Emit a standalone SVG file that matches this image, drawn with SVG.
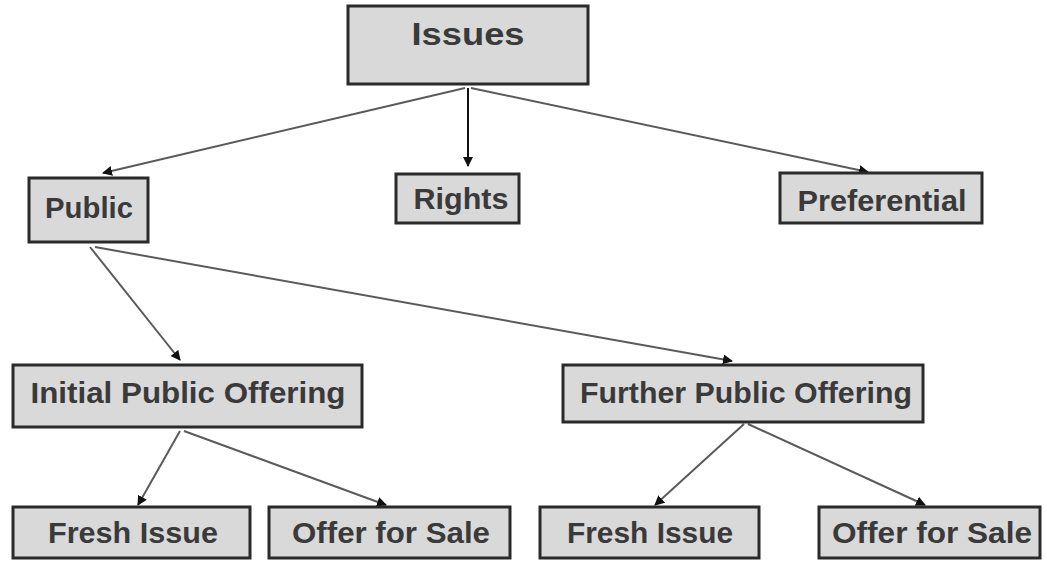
<svg xmlns="http://www.w3.org/2000/svg" width="1047" height="561" viewBox="0 0 1047 561">
<style>
.box{fill:#d9d9d9;stroke:#2a2a2a;stroke-width:3}
.inner{fill:none;stroke:#9a9a9a;stroke-width:1}
.lbl{font-family:"Liberation Sans",Arial,sans-serif;font-weight:bold;fill:#3a3a3a;text-anchor:middle}
.edge{stroke:#5a5a5a;stroke-width:2;fill:none;marker-end:url(#ah)}
</style>
<defs>
<marker id="ah" viewBox="0 0 10 10" refX="9" refY="5" markerWidth="5" markerHeight="5" orient="auto" markerUnits="strokeWidth">
<path d="M0,0 L10,5 L0,10 z" fill="#111"/>
</marker>
</defs>
<rect width="1047" height="561" fill="#fff"/>
<g id="connectors">
<line class="edge" x1="465" y1="88" x2="103" y2="173"/>
<line class="edge" x1="468" y1="88" x2="468" y2="166" style="stroke:#111"/>
<line class="edge" x1="471" y1="88" x2="868" y2="172"/>
<line class="edge" x1="90" y1="247" x2="180" y2="360"/>
<line class="edge" x1="95" y1="247" x2="732" y2="361"/>
<line class="edge" x1="180" y1="431" x2="138" y2="505"/>
<line class="edge" x1="184" y1="431" x2="386" y2="505"/>
<line class="edge" x1="744" y1="424" x2="655" y2="505"/>
<line class="edge" x1="748" y1="424" x2="925" y2="505"/>
</g>
<g id="n-issues">
<rect class="box" x="348" y="6" width="240" height="78"/>
<text class="lbl" x="468" y="45" font-size="32" textLength="113" lengthAdjust="spacingAndGlyphs">Issues</text>
</g>
<g id="n-public">
<rect class="box" x="29" y="178" width="119" height="64"/>
<text class="lbl" x="89" y="218" font-size="30" textLength="88" lengthAdjust="spacingAndGlyphs">Public</text>
</g>
<g id="n-rights">
<rect class="box" x="396" y="174" width="123" height="49"/>
<text class="lbl" x="461" y="209" font-size="30" textLength="95" lengthAdjust="spacingAndGlyphs">Rights</text>
</g>
<g id="n-preferential">
<rect class="box" x="780" y="173" width="202" height="50"/>
<text class="lbl" x="882" y="211" font-size="30" textLength="169" lengthAdjust="spacingAndGlyphs">Preferential</text>
</g>
<g id="n-ipo">
<rect class="box" x="13" y="365" width="349" height="62"/>
<text class="lbl" x="188" y="403" font-size="30" textLength="315" lengthAdjust="spacingAndGlyphs">Initial Public Offering</text>
</g>
<g id="n-fpo">
<rect class="box" x="563" y="365" width="360" height="57"/>
<text class="lbl" x="746" y="403" font-size="30" textLength="332" lengthAdjust="spacingAndGlyphs">Further Public Offering</text>
</g>
<g id="n-fresh1">
<rect class="box" x="13" y="507" width="237" height="51"/>
<text class="lbl" x="133" y="543" font-size="29" textLength="170" lengthAdjust="spacingAndGlyphs">Fresh Issue</text>
</g>
<g id="n-ofs1">
<rect class="box" x="269" y="507" width="241" height="51"/>
<text class="lbl" x="391" y="543" font-size="29" textLength="198" lengthAdjust="spacingAndGlyphs">Offer for Sale</text>
</g>
<g id="n-fresh2">
<rect class="box" x="540" y="507" width="219" height="51"/>
<text class="lbl" x="650" y="543" font-size="29" textLength="166" lengthAdjust="spacingAndGlyphs">Fresh Issue</text>
</g>
<g id="n-ofs2">
<rect class="box" x="819" y="507" width="221" height="51"/>
<text class="lbl" x="932" y="543" font-size="29" textLength="200" lengthAdjust="spacingAndGlyphs">Offer for Sale</text>
</g>
</svg>
